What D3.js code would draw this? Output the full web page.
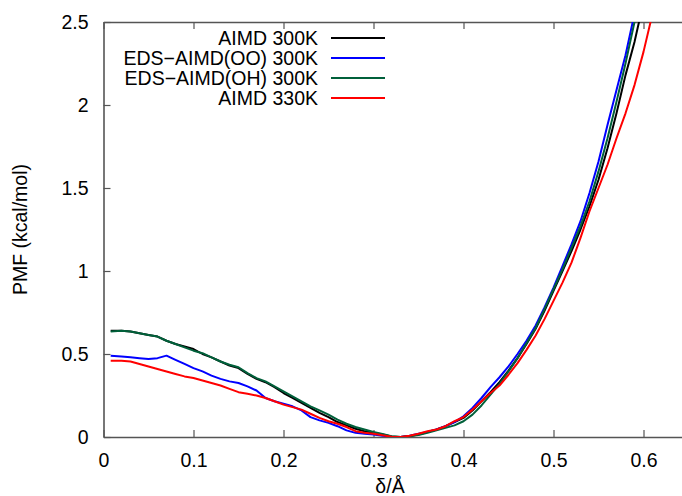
<!DOCTYPE html>
<html>
<head>
<meta charset="utf-8">
<script src="https://cdn.jsdelivr.net/npm/d3@7"></script>
<style>
  html, body { margin: 0; padding: 0; background: #fff; }
  svg text { font-family: "Liberation Sans", Arial, Helvetica, sans-serif; fill: #000; }
</style>
</head>
<body>
<svg id="chart" width="682" height="496"></svg>
<script>
// Reaction coordinate δ (Å)
const delta = [0.008, 0.02, 0.03, 0.04, 0.05, 0.06, 0.07, 0.08, 0.09, 0.10,
               0.11, 0.12, 0.13, 0.14, 0.15, 0.16, 0.17, 0.18, 0.19, 0.20,
               0.21, 0.22, 0.23, 0.24, 0.25, 0.26, 0.27, 0.28, 0.29, 0.30,
               0.31, 0.32, 0.33, 0.34, 0.35, 0.36, 0.37, 0.38, 0.39, 0.40,
               0.41, 0.42, 0.43, 0.44, 0.45, 0.46, 0.47, 0.48, 0.49, 0.50,
               0.51, 0.52, 0.53, 0.54, 0.55, 0.56, 0.57, 0.58, 0.59, 0.60, 0.61];

// PMF (kcal/mol) for each run
const aimd300 = [0.64, 0.64, 0.635, 0.625, 0.615, 0.605, 0.58, 0.56, 0.545, 0.53,
                 0.50, 0.48, 0.455, 0.43, 0.415, 0.38, 0.35, 0.33, 0.30, 0.265,
                 0.235, 0.205, 0.175, 0.145, 0.12, 0.09, 0.07, 0.05, 0.035, 0.025,
                 0.015, 0.003, 0.0, 0.005, 0.015, 0.03, 0.045, 0.065, 0.09, 0.115,
                 0.16, 0.215, 0.27, 0.33, 0.40, 0.475, 0.56, 0.65, 0.76, 0.88,
                 1.0, 1.12, 1.25, 1.39, 1.55, 1.74, 1.95, 2.18, 2.38, 2.62, 2.86];
const edsOO   = [0.49, 0.485, 0.48, 0.475, 0.47, 0.475, 0.49, 0.465, 0.44, 0.415,
                 0.395, 0.37, 0.35, 0.335, 0.325, 0.305, 0.28, 0.235, 0.215, 0.2,
                 0.185, 0.16, 0.12, 0.1, 0.085, 0.065, 0.04, 0.025, 0.02, 0.015,
                 0.008, 0.002, 0.0, 0.008, 0.02, 0.03, 0.045, 0.065, 0.09, 0.125,
                 0.175, 0.235, 0.3, 0.36, 0.425, 0.5, 0.58, 0.67, 0.78, 0.9,
                 1.03, 1.16, 1.3, 1.47, 1.66, 1.88, 2.09, 2.3, 2.55, 2.8, 3.05];
const edsOH   = [0.635, 0.64, 0.635, 0.625, 0.615, 0.605, 0.58, 0.56, 0.54, 0.52,
                 0.505, 0.48, 0.455, 0.435, 0.42, 0.385, 0.355, 0.335, 0.305, 0.275,
                 0.245, 0.215, 0.185, 0.16, 0.135, 0.105, 0.08, 0.06, 0.045, 0.03,
                 0.018, 0.005, 0.0, 0.005, 0.012, 0.025, 0.04, 0.055, 0.07, 0.095,
                 0.135, 0.19, 0.255, 0.32, 0.395, 0.475, 0.565, 0.655, 0.77, 0.89,
                 1.01, 1.14, 1.27, 1.42, 1.6, 1.8, 2.02, 2.25, 2.5, 2.75, 3.0];
const aimd330 = [0.46, 0.46, 0.455, 0.44, 0.425, 0.41, 0.395, 0.38, 0.365, 0.355,
                 0.34, 0.325, 0.31, 0.29, 0.27, 0.26, 0.25, 0.235, 0.215, 0.195,
                 0.18, 0.165, 0.14, 0.115, 0.095, 0.08, 0.06, 0.035, 0.025, 0.02,
                 0.01, 0.002, 0.0, 0.008, 0.02, 0.035, 0.045, 0.065, 0.095, 0.12,
                 0.165, 0.215, 0.265, 0.31, 0.375, 0.445, 0.525, 0.61, 0.71, 0.82,
                 0.93, 1.05, 1.2, 1.36, 1.5, 1.64, 1.8, 1.95, 2.12, 2.32, 2.55];

const seriesNames  = ["AIMD 300K", "EDS\u2212AIMD(OO) 300K", "EDS\u2212AIMD(OH) 300K", "AIMD 330K"];
const seriesColors = ["#000000", "#0000ff", "#00603a", "#ff0000"];
const seriesValues = [aimd300, edsOO, edsOH, aimd330];

const xTicks = [0, 0.1, 0.2, 0.3, 0.4, 0.5, 0.6];
const yTicks = [0, 0.5, 1, 1.5, 2, 2.5];

const margin = { left: 103.5, top: 22, right: 688.5, bottom: 437 };
const svg = d3.select("#chart");

const x = d3.scaleLinear().domain([0, 0.65]).range([margin.left, margin.right]);
const y = d3.scaleLinear().domain([0, 2.5]).range([margin.bottom, margin.top]);

const frameColor = "#555";
const fontSize = 19.5;

svg.append("defs").append("clipPath").attr("id", "plot-clip")
  .append("rect")
  .attr("x", margin.left).attr("y", margin.top)
  .attr("width", margin.right - margin.left)
  .attr("height", margin.bottom - margin.top);

// Axes with inward ticks, mirrored on the top edge
const tickLen = 7;
const xAxisBottom = d3.axisBottom(x).tickValues(xTicks).tickSizeInner(-tickLen).tickSizeOuter(0)
  .tickPadding(tickLen + 9).tickFormat(d3.format("~g"));
const xAxisTop = d3.axisTop(x).tickValues(xTicks).tickSizeInner(-tickLen).tickSizeOuter(0)
  .tickFormat("");
const yAxisLeft = d3.axisLeft(y).tickValues(yTicks).tickSizeInner(-tickLen).tickSizeOuter(0)
  .tickPadding(tickLen + 8).tickFormat(d3.format("~g"));

function styleAxis(g) {
  g.select(".domain").attr("stroke", frameColor).attr("stroke-width", 1.6);
  g.selectAll(".tick line").attr("stroke", frameColor).attr("stroke-width", 1.2);
  g.selectAll(".tick text")
    .style("font-family", "'Liberation Sans', Arial, sans-serif")
    .style("font-size", fontSize + "px").attr("fill", "#000");
}

svg.append("g").attr("transform", `translate(0,${margin.bottom})`).call(xAxisBottom).call(styleAxis);
svg.append("g").attr("transform", `translate(0,${margin.top})`).call(xAxisTop).call(styleAxis);
svg.append("g").attr("transform", `translate(${margin.left},0)`).call(yAxisLeft).call(styleAxis);

// Curves
const line = d3.line()
  .x((d, i) => x(delta[i]))
  .y(d => y(d));

const plot = svg.append("g").attr("clip-path", "url(#plot-clip)");
seriesValues.forEach((vals, k) => {
  plot.append("path")
    .datum(vals)
    .attr("fill", "none")
    .attr("stroke", seriesColors[k])
    .attr("stroke-width", 2)
    .attr("stroke-linejoin", "round")
    .attr("d", line);
});

// Legend
const legend = svg.append("g");
const legendTextX = 318, legendLineX0 = 331, legendLineX1 = 385;
seriesNames.forEach((name, k) => {
  const cy = 38 + k * 20;
  legend.append("text")
    .attr("x", legendTextX).attr("y", cy)
    .attr("dy", "0.35em")
    .attr("text-anchor", "end")
    .style("font-size", fontSize + "px")
    .text(name);
  legend.append("line")
    .attr("x1", legendLineX0).attr("x2", legendLineX1)
    .attr("y1", cy).attr("y2", cy)
    .attr("stroke", seriesColors[k]).attr("stroke-width", 2);
});

// Axis titles
svg.append("text")
  .attr("x", 390).attr("y", 486)
  .attr("dy", "0.35em")
  .attr("text-anchor", "middle")
  .style("font-size", fontSize + "px")
  .text("δ/Å");

svg.append("text")
  .attr("transform", `translate(20,${(margin.top + margin.bottom) / 2}) rotate(-90)`)
  .attr("dy", "0.35em")
  .attr("text-anchor", "middle")
  .style("font-size", fontSize + "px")
  .text("PMF (kcal/mol)");
</script>
</body>
</html>
